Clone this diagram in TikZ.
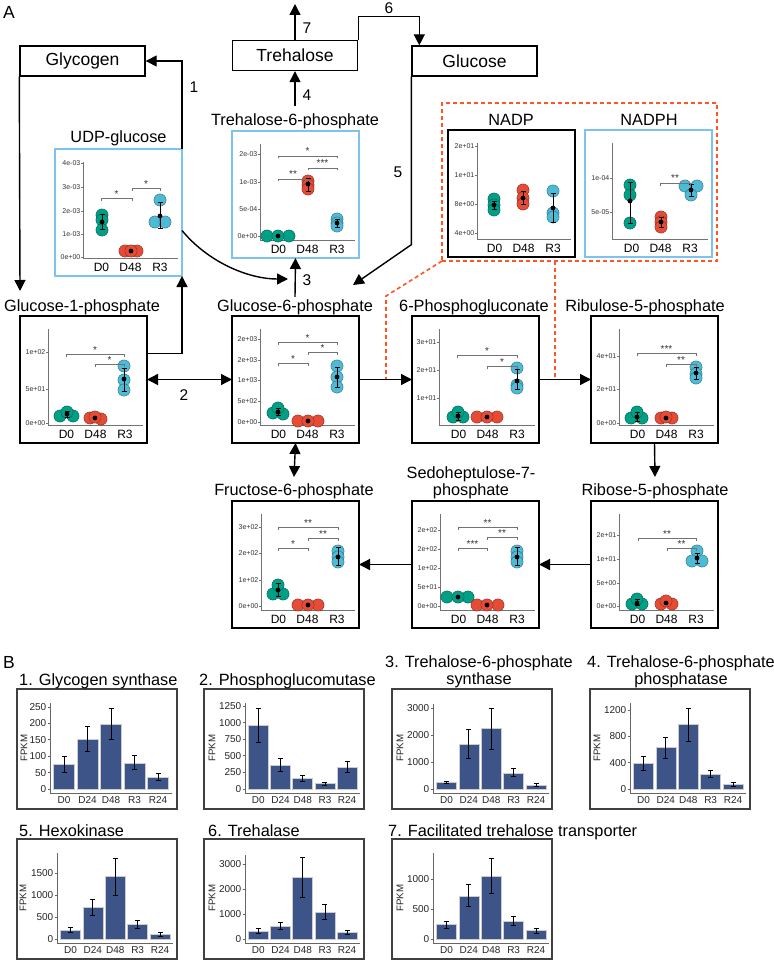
\documentclass[tikz,border=0pt]{standalone}
\usepackage{fontspec}
\setmainfont{Liberation Sans}
\usetikzlibrary{arrows.meta,calc}
\definecolor{gr}{HTML}{00A087}
\definecolor{rd}{HTML}{E64B35}
\definecolor{bl}{HTML}{4DBBD5}
\definecolor{barc}{HTML}{3C5488}
\definecolor{lblue}{RGB}{125,195,240}
\definecolor{redd}{RGB}{255,85,35}
\newcounter{nn}
\tikzset{
 autoname/.code={\stepcounter{nn}\pgfkeysalso{/tikz/name=auto\arabic{nn}}},
 box/.style={draw, line width=1.4pt, minimum width=125pt, minimum height=30pt, inner sep=0pt, font=\fontsize{17.5}{20}\selectfont},
 panel/.style={draw, line width=1.4pt, minimum width=127pt, minimum height=127pt, anchor=north west, inner sep=0pt, outer sep=0pt},
 bluepanel/.style={panel, draw=lblue, line width=1.7pt},
 bbox/.style={draw=black!75, line width=1.4pt, minimum width=160pt, minimum height=120pt, anchor=north west, inner sep=0pt, outer sep=0pt},
 ttl/.style={font=\fontsize{16.3}{18}\selectfont, anchor=base, inner sep=2pt},
 btt/.style={font=\fontsize{16.3}{18}\selectfont, anchor=base west, inner sep=0pt},
 bttc/.style={font=\fontsize{16.3}{18}\selectfont, anchor=base, inner sep=0pt},
 num/.style={font=\fontsize{15.5}{17}\selectfont},
 arr/.style={line width=1.4pt, -{Triangle[length=11pt,width=11pt]}},
 dbl/.style={line width=1.4pt, {Triangle[length=11pt,width=11pt]}-{Triangle[length=11pt,width=11pt]}},
 reddash/.style={draw=redd, line width=1.6pt, dash pattern=on 4pt off 3pt},
 axl/.style={draw=black!55, line width=.7pt},
 baxl/.style={draw=black!60, line width=.8pt},
 brkl/.style={draw=black!55, line width=.7pt},
 ebl/.style={draw=black, line width=.8pt},
 xl/.style={autoname, font=\fontsize{12}{14}\selectfont, inner sep=0pt},
 ytl/.style={autoname, font=\fontsize{7}{8}\selectfont, text=black!80, anchor=east, inner sep=0pt},
 stl/.style={autoname, font=\fontsize{10}{11}\selectfont, text=black!80, anchor=base, inner sep=0pt},
 btl/.style={autoname, font=\fontsize{10}{11}\selectfont, text=black!85, anchor=east, inner sep=0pt},
 bxl/.style={autoname, font=\fontsize{10}{11}\selectfont, text=black!85, anchor=base, inner sep=0pt},
 fpkm/.style={font=\fontsize{9.7}{10}\selectfont, text=black!85, rotate=90, inner sep=0pt},
}
\newcommand\dotaxes[1]{%
 \draw[axl] (#1,13) -- (#1,109) -- (123,109);
 \node[xl] at (46.5,118) {D0}; \node[xl] at (75.5,118) {D48}; \node[xl] at (105,118) {R3};}
\newcommand\ytk[3]{\draw[axl] (#1-2,#2) -- (#1,#2); \node[ytl] at (#1-2.5,#2) {#3};}
\newcommand\dpt[3]{\draw[draw=#1!60!black, fill=#1, line width=.45pt] (#2,#3) circle[radius=6.1pt];}
\newcommand\mnbar[4]{\draw[ebl] (#1,#3) -- (#1,#4) (#1-2.5,#3) -- (#1+2.5,#3) (#1-2.5,#4) -- (#1+2.5,#4); \fill (#1,#2) circle[radius=2.4pt];}
\newcommand\mndot[2]{\fill (#1,#2) circle[radius=2.4pt];}
\newcommand\sbrk[4]{\draw[brkl] (#1,#3+2.5) -- (#1,#3) -- (#2,#3) -- (#2,#3+2.5); \node[stl] at ({(#1+#2)/2},#3-1) {#4};}
\newcommand\bchart[7]{%
 \draw[baxl] (#1,#5) -- (#1,#2+4) -- ({#1+5.2*#4},#2+4);
 \foreach \t in {#6} {\draw[baxl] (#1-2.5,{#2-\t*#3}) -- (#1,{#2-\t*#3}); \node[btl] at (#1-3.5,{#2-\t*#3}) {\t};}
 \foreach \v/\lo/\hi [count=\i from 0] in {#7} {
   \filldraw[fill=barc, draw=black!20, line width=.5pt] ({#1+(0.15+\i)*#4},#2) rectangle ({#1+(1.05+\i)*#4},{#2-\v*#3});
   \draw[ebl] ({#1+(0.6+\i)*#4},{#2-\lo*#3}) -- ({#1+(0.6+\i)*#4},{#2-\hi*#3})
     ({#1+(0.6+\i)*#4-2.5},{#2-\lo*#3}) -- ({#1+(0.6+\i)*#4+2.5},{#2-\lo*#3})
     ({#1+(0.6+\i)*#4-2.5},{#2-\hi*#3}) -- ({#1+(0.6+\i)*#4+2.5},{#2-\hi*#3});
 }
 \foreach \l [count=\i from 0] in {D0,D24,D48,R3,R24} {\node[bxl] at ({#1+(0.6+\i)*#4},#2+14) {\l};}
}
\begin{document}
\begin{tikzpicture}[x=1pt,y=-1pt]
\useasboundingbox (0,0) rectangle (773,960);
\fill[white] (0,0) rectangle (773,960);

% ---------- Panel A ----------
\node[font=\fontsize{17.5}{19}\selectfont] (labA) at (9,12) {A};
\node[box] (glycogen) at (82.5,61) {Glycogen};
\node[box] (trehalose) at (295,55.5) {Trehalose};
\node[box] (glucose) at (474.5,61) {Glucose};

\node[reddash, minimum width=275pt, minimum height=158pt, anchor=north west, inner sep=0pt, outer sep=0pt] (nadpbox) at (442,103) {};

\node[bluepanel] (udp) at (55,149) {};
\node[bluepanel] (t6p) at (232,131) {};
\node[panel] (nadp) at (448,130) {};
\node[bluepanel] (nadph) at (585,130) {};
\node[panel] (g1p) at (20,316) {};
\node[panel] (g6p) at (232,316) {};
\node[panel] (pg6) at (412,316) {};
\node[panel] (ru5p) at (591,316) {};
\node[panel] (f6p) at (232,501) {};
\node[panel] (s7p) at (412,501) {};
\node[panel] (r5p) at (591,501) {};

\node[ttl] (udpT) at (118.5,143) {UDP-glucose};
\node[ttl] (t6pT) at (295,126) {Trehalose-6-phosphate};
\node[ttl] (nadpT) at (511,126) {NADP};
\node[ttl] (nadphT) at (649,126) {NADPH};
\node[ttl] (g1pT) at (82,311) {Glucose-1-phosphate};
\node[ttl] (g6pT) at (295,311) {Glucose-6-phosphate};
\node[ttl] (pg6T) at (474,311) {6-Phosphogluconate};
\node[ttl] (ru5pT) at (645,311) {Ribulose-5-phosphate};
\node[ttl] (f6pT) at (294,495) {Fructose-6-phosphate};
\node[ttl] (s7pTa) at (471,478) {Sedoheptulose-7-};
\node[ttl] (s7pT) at (471,495) {phosphate};
\node[ttl] (r5pT) at (655,495) {Ribose-5-phosphate};

% dashed connectors
\coordinate (rbend) at (386,296);
\coordinate (rtop) at ([xshift=113pt]nadpbox.south west);
\draw[reddash] (nadpbox.south west) -- (rbend) -- (rbend |- g6p.east);
\draw[reddash] (rtop) -- (rtop |- pg6.east);

% arrows
\coordinate (top7) at (295,4);
\coordinate (in1) at (20,291);
\coordinate (in3) at (288,279);
\coordinate (in5) at (353,285);
\draw[arr] (udp.north east) |- (glycogen.east);
\draw[arr] (glycogen.south west) -- (in1);
\draw[arr] (trehalose.north) -- (top7);
\draw[arr] (trehalose.north east) -- ++(0,-23) -| ([xshift=8pt]glucose.north west);
\draw[arr] ([yshift=6pt]t6pT.north) -- (trehalose.south);
\draw[arr] (g6pT.north) -- (t6p.south);
\draw[arr] (glucose.south west) -- ++(0,168) -- (in5);
\draw[arr] ([yshift=-18pt]udp.east) .. controls (208,262) and (248,279) .. (in3);
\draw[arr] ([yshift=26pt]g1p.east) -| (udp.south east);
\draw[dbl] (g1p.east) -- (g6p.west);
\draw[arr] (g6p.east) -- (pg6.west);
\draw[arr] (pg6.east) -- (ru5p.west);
\draw[dbl] (g6p.south) -- ([yshift=4pt]f6pT.north);
\draw[arr] (ru5p.south) -- ([yshift=4pt]r5pT.north);
\draw[arr] (r5p.west) -- (s7p.east);
\draw[arr] (s7p.west) -- (f6p.east);

\node[num] (n1) at (194,87) {1};
\node[num] (n7) at (307,28) {7};
\node[num] (n4) at (307,95) {4};
\node[num] (n3) at (307,280) {3};
\node[num] (n6) at (389,8) {6};
\node[num] (n5) at (398,172) {5};
\node[num] (n2) at (184,395) {2};

% UDP-glucose
\begin{scope}[shift={(55,149)}]
\dotaxes{28}
\ytk{28}{14}{4e-03}\ytk{28}{38}{3e-03}\ytk{28}{62}{2e-03}\ytk{28}{85}{1e-03}\ytk{28}{108}{0e+00}
\dpt{gr}{47}{66}\dpt{gr}{47}{71}\dpt{gr}{47}{81}\mnbar{47}{73}{65}{80}
\dpt{rd}{70}{102}\dpt{rd}{82}{102}\dpt{rd}{76}{102}\mndot{76}{102}
\dpt{bl}{105}{51}\dpt{bl}{100}{73}\dpt{bl}{110}{73}\mnbar{105}{67}{53}{79}
\sbrk{46}{77}{49}{*}\sbrk{77}{105}{39}{*}
\end{scope}
% Trehalose-6-phosphate
\begin{scope}[shift={(232,131)}]
\dotaxes{28}
\ytk{28}{23}{2e-03}\ytk{28}{51}{1e-03}\ytk{28}{78}{5e-04}\ytk{28}{105}{0e+00}
\dpt{gr}{35}{105}\dpt{gr}{57}{105}\dpt{gr}{46}{105}\mndot{46}{105}
\dpt{rd}{76}{50}\dpt{rd}{76}{54}\dpt{rd}{76}{58}\mnbar{76}{53}{47}{60}
\dpt{bl}{105}{88}\dpt{bl}{105}{92}\dpt{bl}{105}{95}\mnbar{105}{92}{88}{96}
\sbrk{46}{76}{48}{**}\sbrk{76}{105}{37}{***}\sbrk{46}{105}{25}{*}
\end{scope}
% NADP
\begin{scope}[shift={(448,130)}]
\dotaxes{29}
\ytk{29}{16}{2e+01}\ytk{29}{45}{1e+01}\ytk{29}{74}{8e+00}\ytk{29}{103}{4e+00}
\dpt{gr}{46}{69}\dpt{gr}{46}{75}\dpt{gr}{46}{80}\mnbar{46}{75}{71}{79}
\dpt{rd}{75}{60}\dpt{rd}{75}{68}\dpt{rd}{75}{74}\mnbar{75}{68}{61}{74}
\dpt{bl}{105}{61}\dpt{bl}{105}{83}\dpt{bl}{105}{87}\mnbar{105}{78}{63}{92}
\end{scope}
% NADPH
\begin{scope}[shift={(585,130)}]
\dotaxes{27}
\ytk{27}{48}{1e-04}\ytk{27}{82}{5e-05}
\dpt{gr}{45}{55}\dpt{gr}{45}{65}\dpt{gr}{45}{93}\mnbar{45}{71}{52}{93}
\dpt{rd}{76}{87}\dpt{rd}{76}{92}\dpt{rd}{76}{97}\mnbar{76}{92}{87}{97}
\dpt{bl}{100}{56}\dpt{bl}{112}{56}\dpt{bl}{106}{65}\mnbar{106}{60}{54}{66}
\sbrk{75}{105}{53}{**}
\end{scope}
% Glucose-1-phosphate
\begin{scope}[shift={(20,316)}]
\dotaxes{28}
\ytk{28}{36}{1e+02}\ytk{28}{73}{5e+01}\ytk{28}{107}{0e+00}
\dpt{gr}{40}{100}\dpt{gr}{53}{100}\dpt{gr}{47}{96}\mnbar{47}{98}{95}{101}
\dpt{rd}{70}{102}\dpt{rd}{81}{103}\dpt{rd}{75}{101}\mndot{75}{102}
\dpt{bl}{104}{50}\dpt{bl}{104}{64}\dpt{bl}{104}{74}\mnbar{104}{63}{52}{75}
\sbrk{46}{104}{38}{*}\sbrk{75}{104}{48}{*}
\end{scope}
% Glucose-6-phosphate
\begin{scope}[shift={(232,316)}]
\dotaxes{28}
\ytk{28}{23}{2e+03}\ytk{28}{44}{2e+03}\ytk{28}{64}{1e+03}\ytk{28}{85}{5e+02}\ytk{28}{106}{0e+00}
\dpt{gr}{41}{97}\dpt{gr}{51}{98}\dpt{gr}{46}{92}\mnbar{46}{96}{92}{99}
\dpt{rd}{66}{105}\dpt{rd}{86}{105}\dpt{rd}{76}{105}\mndot{76}{105}
\dpt{bl}{105}{50}\dpt{bl}{105}{61}\dpt{bl}{105}{71}\mnbar{105}{61}{51}{71}
\sbrk{46}{105}{26}{*}\sbrk{76}{105}{36}{*}\sbrk{46}{76}{47}{*}
\end{scope}
% 6-Phosphogluconate
\begin{scope}[shift={(412,316)}]
\dotaxes{27}
\ytk{27}{26}{3e+01}\ytk{27}{54}{2e+01}\ytk{27}{82}{1e+01}
\dpt{gr}{41}{101}\dpt{gr}{51}{101}\dpt{gr}{46}{96}\mnbar{46}{100}{96}{104}
\dpt{rd}{65}{101}\dpt{rd}{85}{101}\dpt{rd}{75}{101}\mndot{75}{101}
\dpt{bl}{105}{52}\dpt{bl}{105}{69}\dpt{bl}{105}{72}\mnbar{105}{65}{53}{73}
\sbrk{45}{105}{39}{*}\sbrk{75}{105}{50}{*}
\end{scope}
% Ribulose-5-phosphate
\begin{scope}[shift={(591,316)}]
\dotaxes{28}
\ytk{28}{40}{4e+01}\ytk{28}{73}{2e+01}\ytk{28}{107}{0e+00}
\dpt{gr}{40}{102}\dpt{gr}{51}{102}\dpt{gr}{46}{96}\mnbar{46}{101}{96}{105}
\dpt{rd}{70}{102}\dpt{rd}{81}{102}\dpt{rd}{75}{101}\mndot{75}{102}
\dpt{bl}{105}{51}\dpt{bl}{105}{58}\dpt{bl}{105}{62}\mnbar{105}{57}{51}{63}
\sbrk{46}{105}{37}{***}\sbrk{75}{105}{48}{**}
\end{scope}
% Fructose-6-phosphate
\begin{scope}[shift={(232,501)}]
\dotaxes{29}
\ytk{29}{26}{3e+02}\ytk{29}{52}{2e+02}\ytk{29}{79}{1e+02}\ytk{29}{105}{0e+00}
\dpt{gr}{41}{93}\dpt{gr}{51}{93}\dpt{gr}{46}{84}\mnbar{46}{89}{82}{95}
\dpt{rd}{66}{104}\dpt{rd}{86}{104}\dpt{rd}{76}{104}\mndot{76}{104}
\dpt{bl}{106}{50}\dpt{bl}{106}{56}\dpt{bl}{106}{61}\mnbar{106}{56}{46}{64}
\sbrk{46}{106}{26}{**}\sbrk{76}{106}{37}{**}\sbrk{46}{76}{47}{*}
\end{scope}
% Sedoheptulose-7-phosphate
\begin{scope}[shift={(412,501)}]
\dotaxes{28}
\ytk{28}{29}{2e+02}\ytk{28}{48}{2e+02}\ytk{28}{67}{1e+02}\ytk{28}{86}{5e+01}\ytk{28}{105}{0e+00}
\dpt{gr}{35}{96}\dpt{gr}{56}{96}\dpt{gr}{46}{96}\mndot{46}{96}
\dpt{rd}{65}{104}\dpt{rd}{86}{104}\dpt{rd}{75}{104}\mndot{75}{104}
\dpt{bl}{105}{50}\dpt{bl}{105}{56}\dpt{bl}{105}{61}\mnbar{105}{56}{46}{64}
\sbrk{46}{105}{26}{**}\sbrk{75}{105}{36}{**}\sbrk{46}{75}{47}{***}
\end{scope}
% Ribose-5-phosphate
\begin{scope}[shift={(591,501)}]
\dotaxes{28}
\ytk{28}{34}{2e+01}\ytk{28}{58}{1e+01}\ytk{28}{82}{5e+00}\ytk{28}{105}{0e+00}
\dpt{gr}{41}{103}\dpt{gr}{51}{103}\dpt{gr}{46}{98}\mnbar{46}{102}{98}{104}
\dpt{rd}{70}{103}\dpt{rd}{81}{103}\dpt{rd}{75}{100}\mndot{75}{102}
\dpt{bl}{106}{50}\dpt{bl}{101}{60}\dpt{bl}{111}{60}\mnbar{106}{57}{52}{62}
\sbrk{47}{105}{37}{**}\sbrk{76}{105}{47}{**}
\end{scope}

% ---------- Panel B ----------
\node[font=\fontsize{17.5}{19}\selectfont] (labB) at (9,662) {B};
\node[bbox] (bc1) at (17,689) {};
\node[bbox] (bc2) at (204,689) {};
\node[bbox] (bc3) at (392,689) {};
\node[bbox] (bc4) at (590,689) {};
\node[bbox] (bc5) at (17,839) {};
\node[bbox] (bc6) at (204,839) {};
\node[bbox] (bc7) at (392,839) {};

\node[btt] (bt1) at (19,685) {1. Glycogen synthase};
\node[btt] (bt2) at (199,685) {2. Phosphoglucomutase};
\node[bttc] (bt3a) at (479,667) {3. Trehalose-6-phosphate};
\node[bttc] (bt3b) at (479,684) {synthase};
\node[bttc] (bt4a) at (681,667) {4. Trehalose-6-phosphate};
\node[bttc] (bt4b) at (681,684) {phosphatase};
\node[btt] (bt5) at (19,836) {5. Hexokinase};
\node[btt] (bt6) at (208,836) {6. Trehalase};
\node[btt] (bt7) at (388,836) {7. Facilitated trehalose transporter};

\node[fpkm] (fp1) at (24,748) {FPKM};
\node[fpkm] (fp2) at (212,748) {FPKM};
\node[fpkm] (fp3) at (400,748) {FPKM};
\node[fpkm] (fp4) at (597,748) {FPKM};
\node[fpkm] (fp5) at (23,898) {FPKM};
\node[fpkm] (fp6) at (212,898) {FPKM};
\node[fpkm] (fp7) at (400,898) {FPKM};

\bchart{50}{789}{0.328}{23.5}{703}{0,50,100,150,200,250}{76/52/100, 152/115/192, 198/150/247, 80/60/103, 35/25/47}
\bchart{245}{789}{0.0664}{22.2}{703}{0,250,500,750,1000,1250}{960/700/1210, 360/270/460, 160/120/200, 80/60/100, 330/250/410}
\bchart{433}{789}{0.027}{22.4}{704}{0,1000,2000,3000}{250/200/300, 1650/1150/2200, 2250/1480/3000, 600/450/750, 150/100/200}
\bchart{630}{789}{0.0658}{22.4}{703}{0,400,800,1200}{390/290/500, 630/470/790, 980/720/1230, 230/170/290, 70/40/100}
\bchart{57}{939}{0.044}{22.4}{853}{0,500,1000,1500}{210/150/270, 720/530/910, 1420/1000/1840, 330/240/420, 110/70/150}
\bchart{245}{939}{0.025}{22.2}{855}{0,1000,2000,3000}{320/220/420, 520/380/660, 2470/1680/3270, 1080/780/1380, 280/200/350}
\bchart{433}{939}{0.06}{22.4}{853}{0,500,1000}{240/180/300, 720/540/910, 1050/760/1340, 300/230/370, 140/100/180}
\end{tikzpicture}
\end{document}
